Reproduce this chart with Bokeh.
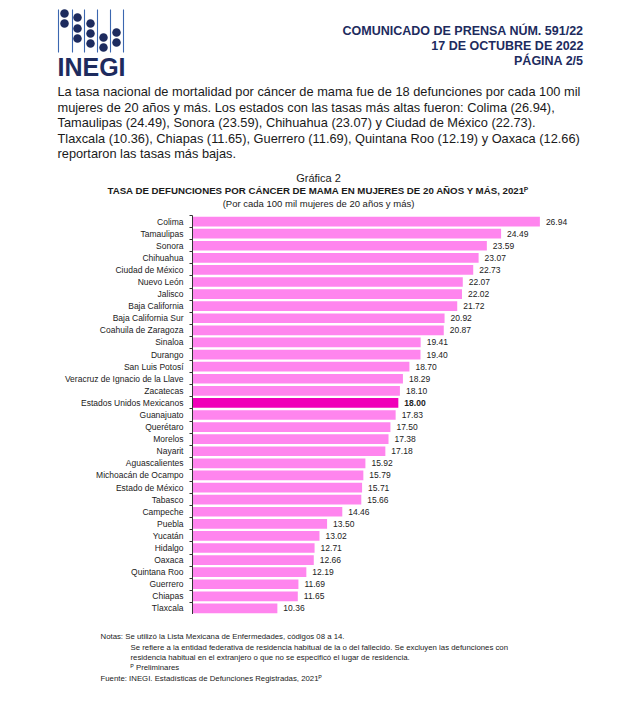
from bokeh.plotting import figure
from bokeh.models import ColumnDataSource, Range1d, FixedTicker
from bokeh.layouts import column, row
from bokeh.core.properties import value
from bokeh.embed import file_html
from bokeh.resources import INLINE

# ---------------- data ----------------
states = ["Colima", "Tamaulipas", "Sonora", "Chihuahua", "Ciudad de México", "Nuevo León",
          "Jalisco", "Baja California", "Baja California Sur", "Coahuila de Zaragoza",
          "Sinaloa", "Durango", "San Luis Potosí", "Veracruz de Ignacio de la Llave",
          "Zacatecas", "Estados Unidos Mexicanos", "Guanajuato", "Querétaro", "Morelos",
          "Nayarit", "Aguascalientes", "Michoacán de Ocampo", "Estado de México", "Tabasco",
          "Campeche", "Puebla", "Yucatán", "Hidalgo", "Oaxaca", "Quintana Roo", "Guerrero",
          "Chiapas", "Tlaxcala"]
rates = [26.94, 24.49, 23.59, 23.07, 22.73, 22.07, 22.02, 21.72, 20.92, 20.87,
         19.41, 19.40, 18.70, 18.29, 18.10, 18.00, 17.83, 17.50, 17.38, 17.18,
         15.92, 15.79, 15.71, 15.66, 14.46, 13.50, 13.02, 12.71, 12.66, 12.19,
         11.69, 11.65, 10.36]
national = "Estados Unidos Mexicanos"

header_lines = ["COMUNICADO DE PRENSA NÚM. 591/22", "17 DE OCTUBRE DE 2022", "PÁGINA 2/5"]
paragraph = [
    "La tasa nacional de mortalidad por cáncer de mama fue de 18 defunciones por cada 100 mil",
    "mujeres de 20 años y más. Los estados con las tasas más altas fueron: Colima (26.94),",
    "Tamaulipas (24.49), Sonora (23.59), Chihuahua (23.07) y Ciudad de México (22.73).",
    "Tlaxcala (10.36), Chiapas (11.65), Guerrero (11.69), Quintana Roo (12.19) y Oaxaca (12.66)",
    "reportaron las tasas más bajas.",
]
chart_label = "Gráfica 2"
chart_title = "TASA DE DEFUNCIONES POR CÁNCER DE MAMA EN MUJERES DE 20 AÑOS Y MÁS, 2021ᴾ"
chart_sub = "(Por cada 100 mil mujeres de 20 años y más)"
notes_text = [
    "Notas: Se utilizó la Lista Mexicana de Enfermedades, códigos 08 a 14.",
    "Se refiere a la entidad federativa de residencia habitual de la o del fallecido. Se excluyen las defunciones con",
    "residencia habitual en el extranjero o que no se especificó el lugar de residencia.",
    "ᴾ Preliminares",
    "Fuente: INEGI. Estadísticas de Defunciones Registradas, 2021ᴾ",
]
notes_indent = [0, 1, 1, 1, 0]

# ---------------- styling ----------------
FONT = value("Liberation Sans")
NAVY = "#1D2B5E"
LIGHT = "#FF85EE"
DARK = "#F000B8"
W = 628
TOP_H, CH_H, BOT_H = 211, 403, 88
FL, FW = 192, 380


def text_fig(h):
    f = figure(width=W, height=h, output_backend="svg", toolbar_location=None,
               x_range=Range1d(0, W), y_range=Range1d(h, 0),
               min_border=0, outline_line_color=None,
               x_axis_location=None, y_axis_location=None)
    f.xgrid.visible = False
    f.ygrid.visible = False
    return f


# ---------------- top: logo, header, paragraph, titles ----------------
top = text_fig(TOP_H)
lx = [58, 72, 84, 97, 110, 123]
top.segment(x0=lx, y0=[9] * len(lx), x1=lx, y1=[52] * len(lx), line_color="#3B67B0", line_width=1.1)
dot_x = [64, 64, 77, 77, 77, 90, 90, 90, 103, 103, 116, 116]
dot_y = [13, 23, 17, 28, 38, 23, 33, 43, 37, 47, 32, 42]
top.scatter(x=dot_x, y=dot_y, size=8.5, color=NAVY, line_color=None)
top.text(x=[91], y=[66], text=["INEGI"], text_font=FONT, text_font_size="25px",
         text_font_style="bold", text_color=NAVY, text_align="center", text_baseline="middle")

top.text(x=[583] * 3, y=[30, 45, 60], text=header_lines, text_font=FONT, text_font_size="12.5px",
         text_font_style="bold", text_color=NAVY, text_align="right", text_baseline="middle")

top.text(x=[57] * 5, y=[91 + i * 15.6 for i in range(5)], text=paragraph, text_font=FONT,
         text_font_size="12.8px", text_color="#1a1a1a", text_align="left", text_baseline="middle")

top.text(x=[318], y=[177], text=[chart_label], text_font=FONT, text_font_size="11px",
         text_color="#1a1a1a", text_align="center", text_baseline="middle")
top.text(x=[318], y=[190], text=[chart_title], text_font=FONT, text_font_size="9.7px",
         text_font_style="bold", text_color="#1a1a1a", text_align="center", text_baseline="middle")
top.text(x=[318], y=[203], text=[chart_sub], text_font=FONT, text_font_size="9.5px",
         text_color="#1a1a1a", text_align="center", text_baseline="middle")

# ---------------- chart ----------------
ys = list(range(len(states)))
src = ColumnDataSource(dict(
    y=ys,
    rate=rates,
    color=[DARK if s == national else LIGHT for s in states],
    txt=["%.2f" % r for r in rates],
    style=["bold" if s == national else "normal" for s in states],
))

p = figure(width=W, height=CH_H, output_backend="svg", toolbar_location=None,
           x_range=Range1d(5, 29), y_range=Range1d(len(states) - 0.5, -0.5),
           min_border_left=FL, min_border_top=CH_H - 399, min_border_right=W - FL - FW,
           min_border_bottom=0, x_axis_location=None, outline_line_color=None)
p.xgrid.visible = False
p.ygrid.visible = False

p.hbar(y="y", left=0, right="rate", height=0.8, color="color", source=src, line_color=None)
p.text(x="rate", y="y", text="txt", source=src, x_offset=6, text_align="left",
       text_baseline="middle", text_font_size="8.5px", text_font=FONT,
       text_font_style="style", text_color="#222222")

ax = p.yaxis[0]
ax.ticker = FixedTicker(ticks=ys, minor_ticks=[i - 0.5 for i in range(len(states) + 1)])
ax.major_label_overrides = {i: s for i, s in zip(ys, states)}
ax.major_tick_out = 0
ax.major_tick_in = 0
ax.minor_tick_out = 3
ax.minor_tick_in = 0
ax.axis_line_color = "#333333"
ax.minor_tick_line_color = "#333333"
ax.major_label_standoff = 6
ax.major_label_text_font = "Liberation Sans"
ax.major_label_text_font_size = "8.5px"
ax.major_label_text_color = "#222222"

# ---------------- notes ----------------
bot = text_fig(BOT_H)
base = TOP_H + CH_H
bot.text(x=[100 + 30 * k for k in notes_indent],
         y=[636 - base, 647 - base, 657 - base, 667 - base, 678 - base],
         text=notes_text, text_font=FONT, text_font_size="7.8px", text_color="#222222",
         text_align="left", text_baseline="middle")

layout = column(row(top), row(p), row(bot), spacing=0)
open("out.html", "w").write(file_html(layout, INLINE))
